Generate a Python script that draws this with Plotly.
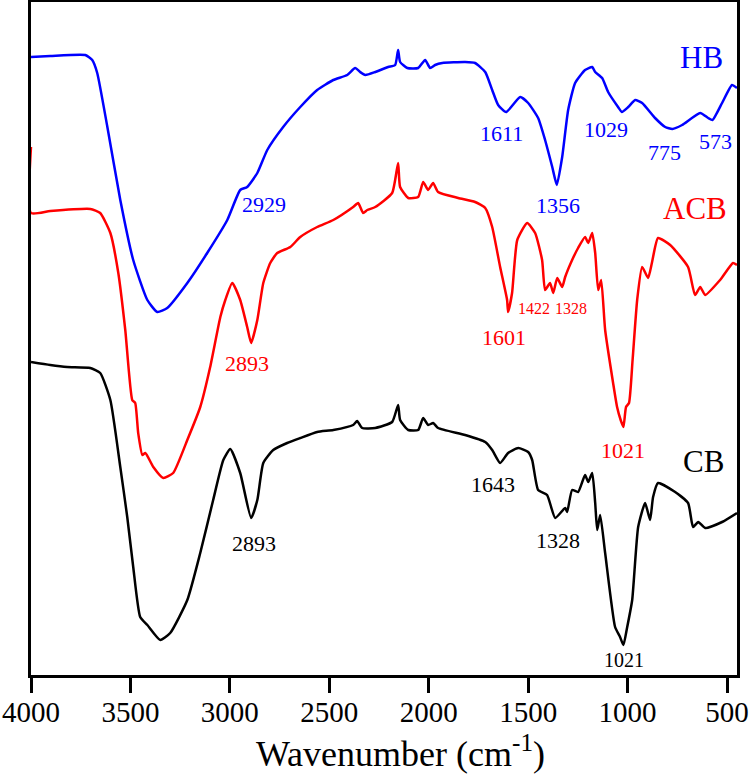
import plotly.graph_objects as go

# ---- Data (wavenumber cm-1, transmittance a.u. with vertical offsets) ----
hb_wn = [4000, 3903, 3727, 3692, 3667, 3616, 3551, 3486, 3415, 3365, 3315, 3214, 3114, 3013,
         2948, 2913, 2862, 2812, 2732, 2646, 2561, 2480, 2410, 2370, 2345, 2319, 2269, 2204,
         2169, 2154, 2144, 2108, 2053, 2018, 1993, 1968, 1932, 1817, 1767, 1716, 1681, 1651,
         1611, 1540, 1500, 1450, 1415, 1379, 1356, 1329, 1299, 1264, 1214, 1178, 1163, 1128,
         1098, 1048, 1029, 997, 962, 927, 862, 811, 775, 726, 635, 595, 573, 525, 475, 450]
hb_t = [619, 620, 621, 616, 603, 549, 476, 416, 376, 364, 368, 393, 423, 456,
        486, 489, 503, 526, 549, 569, 586, 596, 601, 608, 604, 601, 604, 609,
        611, 626, 614, 608, 608, 616, 608, 611, 613, 614, 613, 604, 586, 571,
        564, 579, 573, 558, 536, 509, 491, 519, 566, 593, 606, 609, 604, 598,
        584, 569, 564, 569, 576, 573, 558, 549, 547, 551, 563, 558, 556, 573, 591, 588]

acb_wn = [4000, 4000, 3903, 3702, 3652, 3601, 3561, 3526, 3491, 3476, 3461, 3440, 3425, 3385,
          3335, 3285, 3214, 3149, 3099, 3048, 3023, 2988, 2948, 2913, 2893, 2862, 2832, 2797,
          2762, 2696, 2646, 2561, 2480, 2380, 2355, 2330, 2309, 2269, 2184, 2154, 2144, 2103,
          2053, 2028, 2003, 1978, 1953, 1852, 1767, 1716, 1681, 1641, 1606, 1601, 1581, 1555,
          1505, 1465, 1430, 1415, 1390, 1374, 1354, 1329, 1314, 1279, 1249, 1214, 1198, 1178,
          1163, 1148, 1133, 1113, 1073, 1053, 1035, 1021, 1008, 993, 975, 952, 927, 897,
          877, 847, 786, 696, 661, 635, 610, 535, 470, 450]
acb_t = [529, 463, 465, 467, 463, 443, 403, 346, 276, 273, 243, 221, 223, 209,
         198, 203, 236, 269, 309, 359, 376, 393, 376, 349, 333, 356, 393, 413,
         423, 429, 439, 449, 456, 469, 473, 463, 466, 469, 483, 513, 489, 478,
         479, 494, 486, 493, 484, 478, 474, 468, 449, 409, 376, 364, 383, 436,
         453, 443, 416, 386, 393, 383, 398, 389, 399, 416, 428, 439, 433, 443,
         423, 386, 396, 346, 293, 269, 256, 249, 269, 273, 316, 376, 409, 398,
         414, 438, 431, 409, 381, 389, 381, 396, 413, 411]

cb_wn = [4000, 3903, 3818, 3702, 3652, 3601, 3551, 3516, 3486, 3451, 3415, 3350, 3300, 3214,
         3149, 3084, 3033, 2998, 2948, 2893, 2862, 2832, 2782, 2712, 2646, 2561, 2480, 2380,
         2360, 2335, 2269, 2184, 2154, 2144, 2103, 2053, 2028, 2003, 1978, 1953, 1817, 1716,
         1681, 1641, 1601, 1550, 1500, 1480, 1450, 1405, 1364, 1314, 1304, 1279, 1249, 1214,
         1198, 1178, 1163, 1153, 1138, 1113, 1063, 1038, 1021, 1003, 977, 947, 912, 887,
         872, 847, 761, 696, 671, 645, 610, 525, 450]
cb_t = [314, 311, 309, 308, 303, 276, 209, 159, 109, 59, 51, 36, 43, 76,
        123, 176, 216, 227, 203, 158, 176, 213, 226, 233, 238, 244, 246, 251,
        255, 248, 248, 254, 271, 256, 246, 246, 258, 251, 253, 248, 241, 234,
        226, 213, 223, 228, 224, 216, 186, 181, 158, 168, 164, 186, 184, 201,
        194, 203, 173, 146, 161, 123, 49, 39, 31, 48, 76, 149, 173, 156,
        179, 193, 184, 173, 149, 154, 148, 154, 163]

x_ticks = [4000, 3500, 3000, 2500, 2000, 1500, 1000, 500]

series_names = ["HB", "ACB", "CB"]
series_colors = ["#0000FF", "#FF0000", "#000000"]

# peak labels: (text, wavenumber, a.u., colour index, size)
peak_labels = [
    ("2929", 2827, 472, 0, 22), ("1611", 1636, 543, 0, 22), ("1356", 1349, 471, 0, 22),
    ("1029", 1108, 547, 0, 22), ("775", 816, 524, 0, 22), ("573", 560, 535, 0, 22),
    ("2893", 2913, 313, 1, 22), ("1601", 1621, 339, 1, 22), ("1422", 1470, 368, 1, 16),
    ("1328", 1284, 368, 1, 16), ("1021", 1023, 226, 1, 22),
    ("2893", 2877, 133, 2, 22), ("1643", 1676, 192, 2, 22), ("1328", 1349, 136, 2, 22),
    ("1021", 1018, 16, 2, 20),
]
name_labels = [("HB", 630, 619, 0), ("ACB", 661, 468, 1), ("CB", 620, 215, 2)]

FONT = "Liberation Serif, Times New Roman, serif"

fig = go.Figure()
for name, wn, t, col in zip(series_names, [hb_wn, acb_wn, cb_wn], [hb_t, acb_t, cb_t], series_colors):
    fig.add_trace(go.Scatter(x=wn, y=t, mode="lines", name=name,
                             line=dict(color=col, width=2.5, shape="spline", smoothing=0.5),
                             hoverinfo="skip"))

annotations = []
for text, x, y, ci, size in peak_labels:
    annotations.append(dict(x=x, y=y, xref="x", yref="y", text=text, showarrow=False,
                            font=dict(family=FONT, size=size, color=series_colors[ci]),
                            xanchor="center", yanchor="middle"))
for text, x, y, ci in name_labels:
    annotations.append(dict(x=x, y=y, xref="x", yref="y", text=text, showarrow=False,
                            font=dict(family=FONT, size=31, color=series_colors[ci]),
                            xanchor="center", yanchor="middle"))
# axis title
annotations.append(dict(x=0.524, y=-0.113, xref="paper", yref="paper",
                        text="Wavenumber (cm<sup>-1</sup>)", showarrow=False,
                        font=dict(family=FONT, size=36, color="black"),
                        xanchor="center", yanchor="middle"))

fig.update_layout(
    width=750, height=781,
    margin=dict(l=31, r=13, t=2, b=106, autoexpand=False),
    paper_bgcolor="white", plot_bgcolor="white",
    showlegend=False,
    annotations=annotations,
    font=dict(family=FONT, color="black"),
)
fig.update_xaxes(
    range=[4000, 450], tickmode="array", tickvals=x_ticks, ticktext=[str(v) for v in x_ticks],
    ticks="outside", ticklen=15, tickwidth=2.5, tickcolor="black",
    showline=True, linewidth=2.5, linecolor="black", mirror=True,
    showgrid=False, zeroline=False, automargin=False, ticklabelstandoff=-6,
    tickfont=dict(family=FONT, size=29, color="black"),
)
fig.update_yaxes(
    range=[1, 674], showticklabels=False, ticks="",
    showline=True, linewidth=2.5, linecolor="black", mirror=True,
    showgrid=False, zeroline=False, automargin=False,
)

fig.write_html("out.html", config={"displayModeBar": False},
               post_script="document.body.style.margin='0';document.body.style.padding='0';")
